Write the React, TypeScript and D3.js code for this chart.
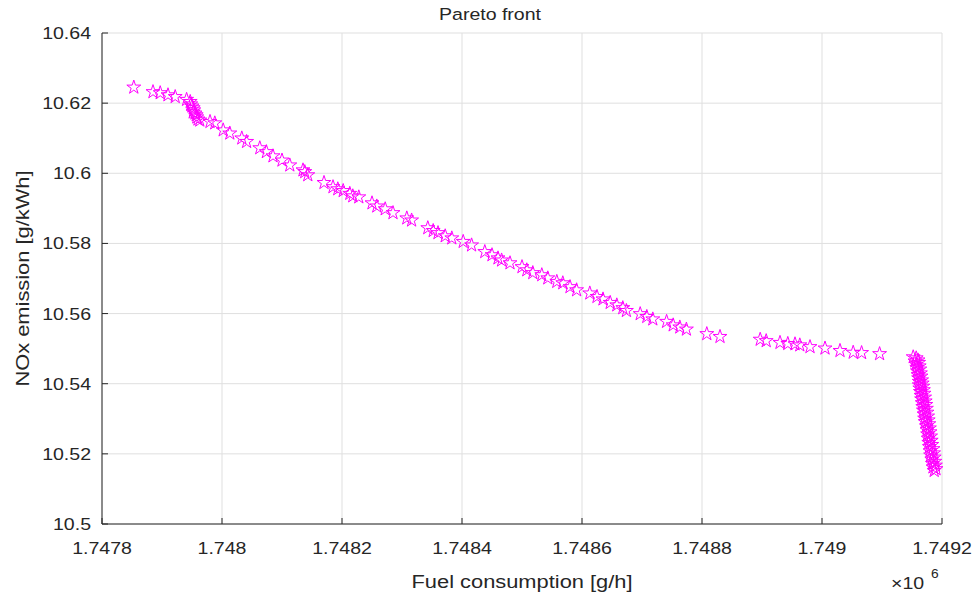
import React from "react";
import * as d3 from "d3";

// Pareto-optimal solutions: fuel consumption [g/h] and NOx emission [g/kWh]
const fuelConsumption = [
  1747853, 1747885, 1747897, 1747910, 1747922, 1747941, 1747947, 1747948, 1747950, 1747952,
  1747953, 1747952, 1747955, 1747957, 1747958, 1747960, 1747963, 1747980, 1747988, 1748002,
  1748013, 1748033, 1748041, 1748063, 1748074, 1748085, 1748100, 1748113, 1748135, 1748138,
  1748143, 1748170, 1748185, 1748193, 1748202, 1748213, 1748218, 1748228, 1748250, 1748258,
  1748272, 1748285, 1748308, 1748316, 1748343, 1748352, 1748360, 1748372, 1748383, 1748402,
  1748416, 1748438, 1748450, 1748460, 1748466, 1748480, 1748500, 1748508, 1748518, 1748533,
  1748543, 1748558, 1748568, 1748580, 1748591, 1748613, 1748625, 1748635, 1748647, 1748658,
  1748668, 1748674, 1748697, 1748708, 1748718, 1748741, 1748752, 1748763, 1748774, 1748808,
  1748830, 1748897, 1748907, 1748930, 1748943, 1748955, 1748963, 1748980, 1749005, 1749030,
  1749052, 1749066, 1749096,
  1749152, 1749157, 1749160, 1749155, 1749161, 1749157, 1749162, 1749158, 1749163, 1749159,
  1749164, 1749160, 1749165, 1749161, 1749166, 1749162, 1749167, 1749162, 1749168, 1749163,
  1749169, 1749164, 1749170, 1749165, 1749171, 1749166, 1749172, 1749167, 1749173, 1749168,
  1749174, 1749169, 1749175, 1749170, 1749176, 1749171, 1749177, 1749172, 1749178, 1749174,
  1749179, 1749175, 1749180, 1749176, 1749181, 1749177, 1749182, 1749178, 1749183, 1749179,
  1749185, 1749180, 1749186, 1749181, 1749187, 1749183, 1749188, 1749184, 1749189, 1749185,
  1749190, 1749187,
];

const noxEmission = [
  10.6245, 10.6232, 10.6229, 10.6223, 10.6218, 10.621, 10.6204, 10.6197, 10.6191, 10.6186,
  10.618, 10.6174, 10.6171, 10.6166, 10.616, 10.6154, 10.6151, 10.6147, 10.6143, 10.6123,
  10.6114, 10.61, 10.609, 10.6072, 10.6061, 10.6049, 10.6037, 10.6023, 10.6009, 10.6004,
  10.5995, 10.5973, 10.5961, 10.5955, 10.595, 10.5942, 10.5935, 10.5932, 10.5915, 10.5906,
  10.5898, 10.5887, 10.5872, 10.5866, 10.5844, 10.5836, 10.583, 10.5821, 10.5815, 10.5805,
  10.5795, 10.5776, 10.5767, 10.5758, 10.5752, 10.5744, 10.5733, 10.5724, 10.5716, 10.571,
  10.5701, 10.5691, 10.5687, 10.5676, 10.5667, 10.5658, 10.5648, 10.5641, 10.5631, 10.5624,
  10.5616, 10.5608, 10.5599, 10.5591, 10.5584, 10.5577, 10.5567, 10.5561, 10.5555, 10.5542,
  10.5534, 10.5526, 10.5522, 10.5517, 10.5514, 10.5513, 10.551, 10.5505, 10.5501, 10.5494,
  10.5489, 10.5488, 10.5485,
  10.5476, 10.5473, 10.5467, 10.5464, 10.546, 10.5455, 10.545, 10.5446, 10.5441, 10.5436,
  10.543, 10.5425, 10.5421, 10.5416, 10.541, 10.5406, 10.5401, 10.5396, 10.5392, 10.5387,
  10.5382, 10.5377, 10.5372, 10.5366, 10.5361, 10.5356, 10.535, 10.5345, 10.534, 10.5334,
  10.5329, 10.5324, 10.5318, 10.5313, 10.5307, 10.5301, 10.5296, 10.5291, 10.5285, 10.5279,
  10.5273, 10.5268, 10.5262, 10.5256, 10.525, 10.5244, 10.5238, 10.5232, 10.5226, 10.522,
  10.5214, 10.5208, 10.5202, 10.5196, 10.519, 10.5184, 10.5178, 10.5172, 10.5167, 10.5162,
  10.5157, 10.5152,
];

const xTickValues = [1747800, 1748000, 1748200, 1748400, 1748600, 1748800, 1749000, 1749200];
const xTickLabels = ["1.7478", "1.748", "1.7482", "1.7484", "1.7486", "1.7488", "1.749", "1.7492"];
const yTickValues = [10.5, 10.52, 10.54, 10.56, 10.58, 10.6, 10.62, 10.64];
const yTickLabels = ["10.5", "10.52", "10.54", "10.56", "10.58", "10.6", "10.62", "10.64"];

const W = 978;
const H = 597;
const plot = { left: 102, right: 942, top: 33, bottom: 524 };
const FONT = "'Liberation Sans', Arial, Helvetica, sans-serif";
const AXIS_COLOR = "#262626";
const GRID_COLOR = "#dfdfdf";
const MARKER_COLOR = "#ff00ff";
const STRETCH = 1.15;

type LabelProps = {
  x: number;
  y: number;
  size: number;
  anchor?: "start" | "middle" | "end";
  rotate?: number;
  children: React.ReactNode;
};

function Label({ x, y, size, anchor = "middle", rotate, children }: LabelProps) {
  const rot = rotate ? ` rotate(${rotate})` : "";
  return (
    <text
      transform={`translate(${x},${y})${rot} scale(${STRETCH},1)`}
      textAnchor={anchor}
      fontFamily={FONT}
      fontSize={size}
      fill={AXIS_COLOR}
    >
      {children}
    </text>
  );
}

export default function App() {
  const x = d3.scaleLinear().domain([1747800, 1749200]).range([plot.left, plot.right]);
  const y = d3.scaleLinear().domain([10.5, 10.64]).range([plot.bottom, plot.top]);
  const starPath = d3.symbol(d3.symbolStar, 60)() as string;
  const points = fuelConsumption.map((f, i) => ({ f, n: noxEmission[i] }));

  return (
    <div style={{ position: "absolute", left: 0, top: 0, background: "#fff" }}>
      <svg width={W} height={H} viewBox={`0 0 ${W} ${H}`} style={{ display: "block" }}>
        <rect width={W} height={H} fill="#ffffff" />

        {/* grid */}
        <g stroke={GRID_COLOR} strokeWidth={1}>
          {xTickValues.map((v) => (
            <line key={`gx${v}`} x1={x(v)} x2={x(v)} y1={plot.top} y2={plot.bottom} />
          ))}
          {yTickValues.map((v) => (
            <line key={`gy${v}`} x1={plot.left} x2={plot.right} y1={y(v)} y2={y(v)} />
          ))}
        </g>

        {/* markers */}
        <g fill="none" stroke={MARKER_COLOR} strokeWidth={1}>
          {points.map((p, i) => (
            <path key={i} d={starPath} transform={`translate(${x(p.f)},${y(p.n)})`} />
          ))}
        </g>

        {/* axes */}
        <g stroke={AXIS_COLOR} strokeWidth={1} fill="none">
          <line x1={plot.left} x2={plot.left} y1={plot.top} y2={plot.bottom} />
          <line x1={plot.left} x2={plot.right} y1={plot.bottom} y2={plot.bottom} />
          {xTickValues.map((v) => (
            <line key={`tx${v}`} x1={x(v)} x2={x(v)} y1={plot.bottom} y2={plot.bottom - 6} />
          ))}
          {yTickValues.map((v) => (
            <line key={`ty${v}`} x1={plot.left} x2={plot.left + 6} y1={y(v)} y2={y(v)} />
          ))}
        </g>

        {/* tick labels */}
        {xTickValues.map((v, i) => (
          <Label key={`lx${v}`} x={x(v)} y={554} size={17}>
            {xTickLabels[i]}
          </Label>
        ))}
        {yTickValues.map((v, i) => (
          <Label key={`ly${v}`} x={91} y={y(v) + 6} size={17} anchor="end">
            {yTickLabels[i]}
          </Label>
        ))}

        {/* exponent */}
        <Label x={891} y={589} size={17} anchor="start">
          ×10
        </Label>
        <Label x={931} y={578} size={12} anchor="start">
          6
        </Label>

        {/* titles */}
        <Label x={(plot.left + plot.right) / 2} y={588} size={19}>
          Fuel consumption [g/h]
        </Label>
        <Label x={29} y={(plot.top + plot.bottom) / 2} size={19} rotate={-90}>
          NOx emission [g/kWh]
        </Label>
        <Label x={490} y={20} size={17}>
          Pareto front
        </Label>
      </svg>
    </div>
  );
}
